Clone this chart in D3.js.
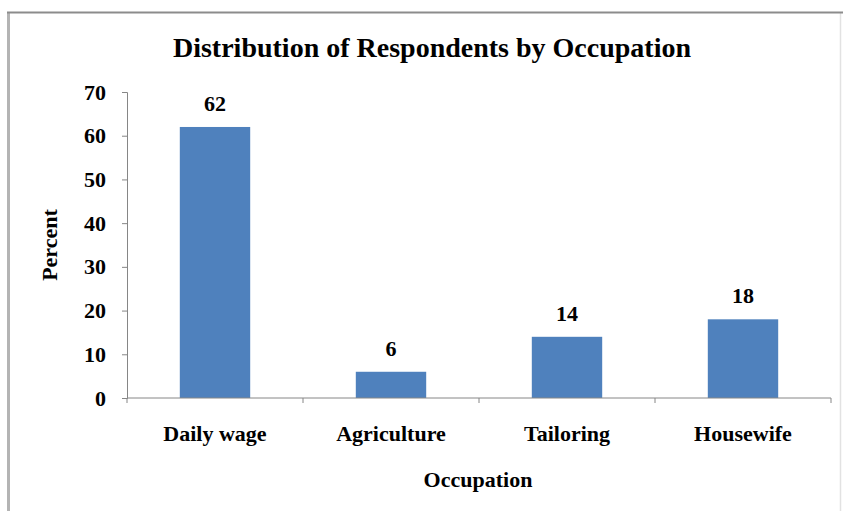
<!DOCTYPE html>
<html>
<head>
<meta charset="utf-8">
<script src="https://cdn.jsdelivr.net/npm/d3@7"></script>
<style>
  html, body { margin: 0; padding: 0; background: #fff; }
  svg { display: block; }
</style>
</head>
<body>
<svg id="chart" width="843" height="511"></svg>
<script>
// Occupation categories and the share of respondents in each (percent)
const categories = ["Daily wage", "Agriculture", "Tailoring", "Housewife"];
const percents = [62, 6, 14, 18];
const yTicks = [0, 10, 20, 30, 40, 50, 60, 70];

const title = "Distribution of Respondents by Occupation";
const xTitle = "Occupation";
const yTitle = "Percent";

const FONT = "'Liberation Serif', 'Times New Roman', Times, serif";
const AXIS = "#868686";

const svg = d3.select("#chart");
const W = 843, H = 511;
const plot = { left: 127, right: 831, top: 92, bottom: 398 };

function styleText(sel, size) {
  return sel.style("font-family", FONT)
    .style("font-weight", "bold")
    .style("font-size", size + "px")
    .style("fill", "#000");
}

// outer frame of the chart area: darker top edge, lighter sides
const frame = svg.append("g").attr("fill", "none");
frame.append("line")
  .attr("x1", 8.5).attr("x2", 8.5).attr("y1", 12).attr("y2", H)
  .attr("stroke", "#b4b4b4").attr("stroke-width", 3);
frame.append("line")
  .attr("x1", 840.5).attr("x2", 840.5).attr("y1", 12).attr("y2", H)
  .attr("stroke", "#e2e2e2").attr("stroke-width", 1.5);
frame.append("line")
  .attr("x1", 7).attr("x2", W).attr("y1", 12.5).attr("y2", 12.5)
  .attr("stroke", "#8c8c8c").attr("stroke-width", 2);

const x = d3.scaleBand()
  .domain(categories)
  .range([plot.left, plot.right])
  .paddingInner(0.6)
  .paddingOuter(0.3);

const y = d3.scaleLinear()
  .domain([0, 70])
  .range([plot.bottom, plot.top]);

// title
styleText(svg.append("text"), 28)
  .attr("x", 432).attr("y", 57)
  .attr("text-anchor", "middle")
  .text(title);

// bars
svg.append("g").selectAll("rect")
  .data(percents)
  .join("rect")
  .attr("x", (d, i) => x(categories[i]))
  .attr("y", d => y(d))
  .attr("width", x.bandwidth())
  .attr("height", d => y(0) - y(d))
  .attr("fill", "#4F81BD");

// value labels
styleText(svg.append("g").selectAll("text")
  .data(percents)
  .join("text"), 22)
  .attr("x", (d, i) => x(categories[i]) + x.bandwidth() / 2)
  .attr("y", d => y(d) - 16)
  .attr("text-anchor", "middle")
  .text(d => d);

// y axis
const yAxis = svg.append("g")
  .attr("transform", `translate(${plot.left},0)`)
  .call(d3.axisLeft(y).tickValues(yTicks).tickSize(5).tickPadding(16));
styleText(yAxis.selectAll("text"), 22);
yAxis.select(".domain").attr("stroke", AXIS);
yAxis.selectAll(".tick line").attr("stroke", AXIS);

// x axis, ticks at category boundaries
const bounds = d3.range(categories.length + 1).map(i => plot.left + i * x.step());
const xAxisG = svg.append("g").attr("transform", `translate(0,${plot.bottom})`);
xAxisG.append("line")
  .attr("x1", plot.left).attr("x2", plot.right)
  .attr("stroke", AXIS);
xAxisG.selectAll("line.tick")
  .data(bounds)
  .join("line")
  .attr("class", "tick")
  .attr("x1", d => d).attr("x2", d => d)
  .attr("y1", 0).attr("y2", 5)
  .attr("stroke", AXIS);
styleText(xAxisG.selectAll("text")
  .data(categories)
  .join("text"), 22)
  .attr("x", d => x(d) + x.bandwidth() / 2)
  .attr("y", 43)
  .attr("text-anchor", "middle")
  .text(d => d);

// axis titles
styleText(svg.append("text"), 22)
  .attr("x", 478).attr("y", 487)
  .attr("text-anchor", "middle")
  .text(xTitle);

styleText(svg.append("text"), 22)
  .attr("transform", "translate(57,245) rotate(-90)")
  .attr("text-anchor", "middle")
  .text(yTitle);
</script>
</body>
</html>
